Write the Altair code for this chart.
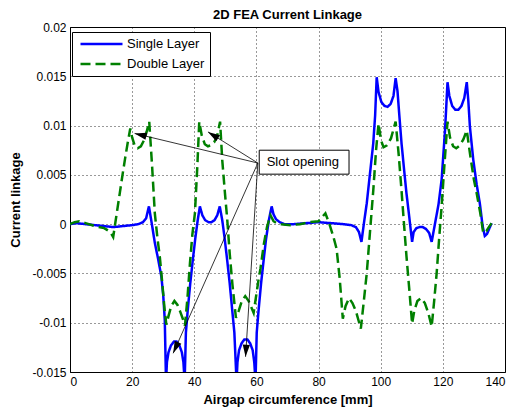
import math
import altair as alt
import pandas as pd

# Current linkage along the airgap, (position [mm], linkage) pairs
single_layer = [
    (0, 0.0), (2, 0.0001), (5, 0.0), (8, -0.0001), (11, -0.0002), (14, -0.0003), (17, -0.0002),
    (20, -0.0001), (22, 0.0), (23.5, 0.0002), (24.5, 0.0006), (25.4, 0.0018),
    (26.3, 0.0001), (27.3, -0.0019), (28.4, -0.0036), (29.4, -0.0053), (30.0, -0.0072), (30.5, -0.0097), (30.9, -0.0160),
    (31.2, -0.0140), (31.7, -0.0130), (32.5, -0.0123), (33.5, -0.0119), (34.3, -0.0119), (35.2, -0.0123),
    (36.0, -0.0130), (36.5, -0.0140), (36.9, -0.0160),
    (37.3, -0.0110), (37.9, -0.0087), (38.7, -0.0060), (39.5, -0.0037), (40.3, -0.0015), (41.1, 0.0004), (41.8, 0.0018),
    (42.6, 0.0009), (43.5, 0.0004), (44.6, 0.0002), (45.5, 0.0002), (46.5, 0.0004), (47.4, 0.0009), (48.2, 0.0018),
    (49.0, 0.0004), (49.8, -0.0015), (50.6, -0.0037), (51.4, -0.0060), (52.2, -0.0087), (52.9, -0.0110), (53.6, -0.0160),
    (53.9, -0.0140), (54.4, -0.0128), (55.2, -0.0121), (56.1, -0.0117), (57.1, -0.0117), (58.0, -0.0121),
    (58.8, -0.0128), (59.3, -0.0140), (59.7, -0.0160),
    (60.1, -0.0110), (60.7, -0.0087), (61.5, -0.0060), (62.3, -0.0037), (63.1, -0.0015), (64.0, 0.0004), (64.9, 0.0018),
    (65.5, 0.0010), (66.3, 0.0005), (67.5, 0.0002), (69, 0.0), (72, 0.0), (76, 0.0001), (80, 0.0002),
    (84, 0.0001), (88, 0.0), (90.5, -0.0001), (92.0, -0.0003), (93.0, -0.0008), (93.8, -0.0018),
    (94.6, 0.0001), (95.5, 0.0021), (96.5, 0.0050), (97.6, 0.0082), (98.2, 0.0110), (98.7, 0.0149),
    (99.3, 0.0134), (100.2, 0.0124), (101.2, 0.0120), (102.2, 0.0119), (103.2, 0.0122), (104.1, 0.0130), (104.8, 0.0148),
    (105.4, 0.0135), (106.0, 0.0110), (106.7, 0.0082), (107.5, 0.0056), (108.3, 0.0031), (109.2, 0.0007), (110.1, -0.0018),
    (110.6, -0.0008), (111.5, -0.0004), (112.5, -0.0003), (113.5, -0.0003), (114.6, -0.0005), (115.6, -0.0009), (116.4, -0.0018),
    (117.5, 0.0001), (118.6, 0.0020), (119.6, 0.0045), (120.7, 0.0095), (121.5, 0.0144),
    (122.1, 0.0130), (123.0, 0.0120), (124.0, 0.0116), (125.0, 0.0116), (126.0, 0.0120), (126.9, 0.0128), (127.7, 0.0144),
    (128.2, 0.0125), (128.7, 0.0099), (129.8, 0.0065), (130.9, 0.0040), (131.9, 0.0021), (132.8, -0.0002),
    (133.5, -0.0012), (134.2, -0.0010), (135.0, -0.0004), (135.7, 0.0001),
]

double_layer = [
    (0, 0.0), (1.5, 0.0002), (3, 0.0003), (5, 0.0001), (8, -0.0002), (11, -0.0004), (13, -0.0008), (13.9, -0.0013),
    (15.0, 0.0010), (16.0, 0.0031), (17.0, 0.0052), (17.8, 0.0068), (18.6, 0.0083), (19.4, 0.0097),
    (20.0, 0.0088), (20.8, 0.0080), (21.8, 0.0077), (22.8, 0.0079), (23.8, 0.0085), (24.7, 0.0094), (25.5, 0.0104),
    (26.4, 0.0060), (27.3, 0.0011), (28.1, -0.0013), (28.9, -0.0033), (29.7, -0.0060), (30.4, -0.0085), (31.0, -0.0102),
    (31.8, -0.0092), (32.6, -0.0083), (33.6, -0.0078), (34.6, -0.0082), (35.5, -0.0089), (36.3, -0.0096), (37.0, -0.0103),
    (37.8, -0.0075), (38.6, -0.0040), (39.4, -0.0010), (40.2, 0.0011), (41.0, 0.0060), (41.6, 0.0104),
    (42.4, 0.0090), (43.4, 0.0081), (44.4, 0.0079), (45.4, 0.0080), (46.4, 0.0083), (47.4, 0.0090), (48.3, 0.0104),
    (49.0, 0.0065), (49.8, 0.0034), (50.6, 0.0005), (51.4, -0.0030), (52.3, -0.0062), (53.4, -0.0095),
    (54.3, -0.0088), (55.3, -0.0078), (56.4, -0.0073), (57.5, -0.0078), (58.3, -0.0084), (59.1, -0.0090),
    (59.8, -0.0075), (60.6, -0.0058), (61.3, -0.0045), (62.4, -0.0020), (63.4, -0.0003), (64.5, 0.0009),
    (65.5, 0.0003), (66.5, 0.0001), (68, 0.0), (71, -0.0001), (74, 0.0), (77, 0.0002), (80, 0.0003), (82.2, 0.0011),
    (83.5, 0.0), (84.7, -0.0012), (85.8, -0.0025), (86.8, -0.0055), (87.8, -0.0096),
    (88.7, -0.0083), (89.8, -0.0075), (90.9, -0.0080), (92.0, -0.0088), (93.6, -0.0106),
    (94.5, -0.0080), (95.5, -0.0050), (96.5, -0.0010), (97.6, 0.0034), (98.5, 0.0075), (99.3, 0.0102),
    (100.1, 0.0085), (100.9, 0.0078), (102.0, 0.0080), (103.3, 0.0087), (104.8, 0.0104),
    (105.8, 0.0070), (106.7, 0.0034), (107.5, 0.0), (108.3, -0.0033), (109.3, -0.0070), (110.1, -0.0101),
    (110.8, -0.0088), (111.8, -0.0078), (113.0, -0.0075), (114.2, -0.0080), (115.3, -0.0090), (116.4, -0.0104),
    (117.2, -0.0078), (118.0, -0.0050), (118.8, -0.0015), (119.6, 0.0018), (120.5, 0.0060), (121.5, 0.0104),
    (122.3, 0.0088), (123.3, 0.0079), (124.3, 0.0077), (125.5, 0.0080), (126.6, 0.0086), (127.7, 0.0095),
    (128.8, 0.0070), (130.0, 0.0045), (130.9, 0.0031), (132.0, 0.0012), (133.0, -0.0009), (134.0, -0.0007),
    (135.0, -0.0002), (135.7, 0.0001),
]

series_names = ["Single Layer", "Double Layer"]
series_colors = ["#0000ff", "#008000"]
series_dashes = [[1, 0], [10, 5]]

x_ticks = [0, 20, 40, 60, 80, 100, 120, 140]
y_ticks = [-0.015, -0.01, -0.005, 0, 0.005, 0.01, 0.015, 0.02]
x_domain = [0, 140]
y_domain = [-0.015, 0.02]

# "Slot opening" callout: box, arrow origin and arrow tips (data units)
callout_text = "Slot opening"
callout_box_x = [60.9, 89.8]
callout_box_y = [0.00507, 0.0075]
callout_text_pos = (63.3, 0.0063)
arrow_origin = (60.45, 0.0062)
arrow_tips_x = [20.8, 44.4, 33.2, 56.5]
arrow_tips_y = [0.0092, 0.00936, -0.0131, -0.01346]

W, H = 435, 345
FONT = "Liberation Sans"

rows = []
for name, pts in zip(series_names, [single_layer, double_layer]):
    for i, (x, y) in enumerate(pts):
        rows.append({"series": name, "x": x, "y": y, "idx": i})
df = pd.DataFrame(rows)

x_scale = alt.Scale(domain=x_domain, nice=False, zero=False)
y_scale = alt.Scale(domain=y_domain, nice=False, zero=False)

x_axis = alt.Axis(values=x_ticks, title="Airgap circumference [mm]", labelPadding=4, titlePadding=6)
y_axis = alt.Axis(
    values=y_ticks,
    title="Current linkage",
    labelPadding=4,
    titlePadding=9,
    labelExpr="datum.value < 0 ? '-' + format(-datum.value, '~g') : format(datum.value, '~g')",
)

lines = alt.Chart(df).mark_line(strokeWidth=2.5, clip=True).encode(
    x=alt.X("x:Q", scale=x_scale, axis=x_axis),
    y=alt.Y("y:Q", scale=y_scale, axis=y_axis),
    color=alt.Color(
        "series:N",
        scale=alt.Scale(domain=series_names, range=series_colors),
        legend=alt.Legend(
            title=None,
            orient="none",
            legendX=2,
            legendY=5,
            strokeColor="black",
            fillColor="white",
            padding=5,
            symbolType="stroke",
            symbolSize=1764,
            symbolStrokeWidth=2.5,
            symbolOffset=2,
            labelFont=FONT,
            labelFontSize=13,
            labelColor="black",
            labelOffset=3,
            clipHeight=14,
            rowPadding=6,
            cornerRadius=0,
        ),
    ),
    strokeDash=alt.StrokeDash(
        "series:N", scale=alt.Scale(domain=series_names, range=series_dashes), legend=None
    ),
    order=alt.Order("idx:Q"),
)

# callout box and label
box_df = pd.DataFrame([{
    "x1": callout_box_x[0], "x2": callout_box_x[1],
    "y1": callout_box_y[0], "y2": callout_box_y[1],
    "tx": callout_text_pos[0], "ty": callout_text_pos[1], "label": callout_text,
}])
box = alt.Chart(box_df).mark_rect(fill="white", stroke="black", strokeWidth=1).encode(
    x=alt.X("x1:Q", scale=x_scale), x2="x2:Q",
    y=alt.Y("y1:Q", scale=y_scale), y2="y2:Q",
)
box_text = alt.Chart(box_df).mark_text(
    align="left", baseline="middle", font=FONT, fontSize=13, color="black"
).encode(
    x=alt.X("tx:Q", scale=x_scale), y=alt.Y("ty:Q", scale=y_scale), text="label:N"
)

# arrows from the callout to the slot openings
kx = W / (x_domain[1] - x_domain[0])
ky = H / (y_domain[1] - y_domain[0])
arrow_rows = []
for tx, ty in zip(arrow_tips_x, arrow_tips_y):
    dx = (tx - arrow_origin[0]) * kx
    dy = -(ty - arrow_origin[1]) * ky
    ang = math.degrees(math.atan2(dx, -dy)) % 360
    arrow_rows.append({"ox": arrow_origin[0], "oy": arrow_origin[1], "tx": tx, "ty": ty, "angle": ang})
arrow_df = pd.DataFrame(arrow_rows)

arrow_lines = alt.Chart(arrow_df).mark_rule(color="black", strokeWidth=0.8).encode(
    x=alt.X("ox:Q", scale=x_scale), y=alt.Y("oy:Q", scale=y_scale),
    x2="tx:Q", y2="ty:Q",
)
arrow_heads = alt.Chart(arrow_df).mark_point(
    shape="M0,0L0.6,2L-0.6,2Z", filled=True, color="black", opacity=1, size=144
).encode(
    x=alt.X("tx:Q", scale=x_scale), y=alt.Y("ty:Q", scale=y_scale),
    angle=alt.Angle("angle:Q", scale=None),
)

chart = (
    alt.layer(lines, box, box_text, arrow_lines, arrow_heads)
    .properties(
        width=W,
        height=H,
        title="2D FEA Current Linkage",
        padding={"left": 70, "top": 27, "right": 9, "bottom": 40},
        autosize=alt.AutoSizeParams(type="none"),
        background="white",
    )
    .configure_view(stroke="black", strokeWidth=1)
    .configure_axis(
        grid=True,
        gridColor="black",
        gridDash=[1, 3],
        gridOpacity=0.8,
        domain=False,
        ticks=False,
        labelFont=FONT,
        labelFontSize=12,
        labelColor="black",
        titleFont=FONT,
        titleFontSize=13,
        titleFontWeight="bold",
        titleColor="black",
    )
    .configure_title(font=FONT, fontSize=13, fontWeight="bold", color="black", offset=-1)
)

chart.save("out.html", embed_options={"renderer": "svg", "actions": False})
